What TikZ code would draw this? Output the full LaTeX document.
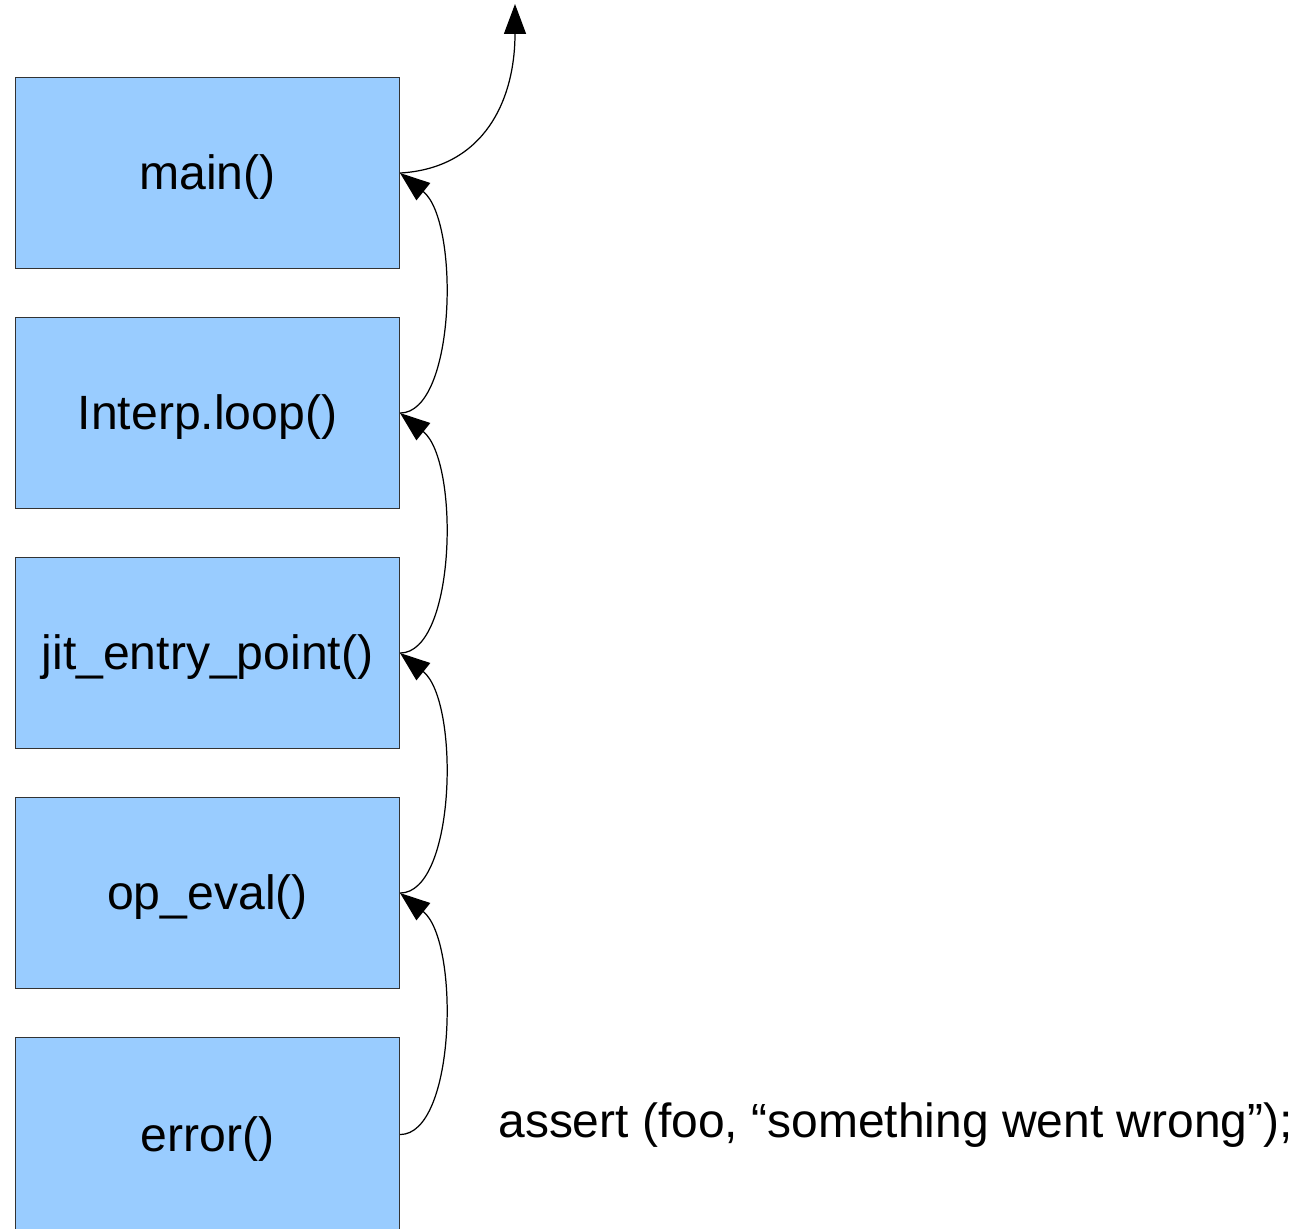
\documentclass[tikz,border=0pt]{standalone}
\usepackage{fontspec}
\setmainfont{Liberation Sans}
\usetikzlibrary{arrows.meta}
\definecolor{framefill}{HTML}{99CCFF}
\definecolor{frameline}{HTML}{333333}
\begin{document}
\begin{tikzpicture}[x=0.02cm,y=-0.02cm,
  frame/.style={draw=frameline,line width=0.6pt,fill=framefill,minimum width=384*0.02cm,
    minimum height=191*0.02cm,inner sep=0pt,font=\fontsize{27.4}{30}\selectfont,
    text height=24.6pt,text depth=5.8pt,anchor=north west},
  ret/.style={line width=0.7pt,-{Triangle[length=17pt,width=12.5pt]}}]
\useasboundingbox (0,0) rectangle (1300,1228);
\node[frame] (main) at (15,77) {main()};
\node[frame] (loop) at (15,317) {Interp.loop()};
\node[frame] (jit) at (15,557) {jit\_entry\_point()};
\node[frame] (op) at (15,797) {op\_eval()};
% the lowest frame runs past the lower edge of the page
\node[frame,minimum height=194*0.02cm] (err) at (15,1037) {error()};
\coordinate (top) at (515,4);
\node[anchor=west,inner sep=0pt,font=\fontsize{27.3}{30}\selectfont] (msg) at (498,1125)
  {assert (foo, “something went wrong”);};
% return path up the call stack
\draw[ret] (err.east) .. controls +(56,0) and +(60,48) .. (op.east);
\draw[ret] (op.east) .. controls +(56,0) and +(60,48) .. (jit.east);
\draw[ret] (jit.east) .. controls +(56,0) and +(60,48) .. (loop.east);
\draw[ret] (loop.east) .. controls +(56,0) and +(60,48) .. (main.east);
\draw[ret] (main.east) .. controls +(85,-5) and +(0,95) .. (top);
\end{tikzpicture}
\end{document}
